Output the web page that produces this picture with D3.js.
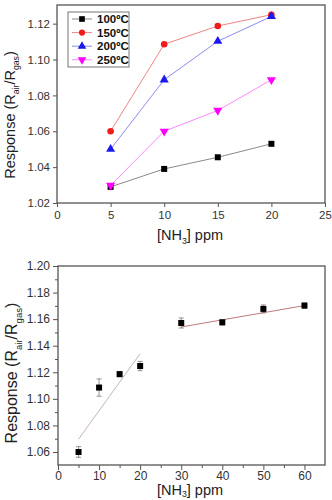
<!DOCTYPE html>
<html>
<head>
<meta charset="utf-8">
<script src="https://cdn.jsdelivr.net/npm/d3@7"></script>
<style>
  body { margin: 0; background: #fff; }
  svg { display: block; font-family: "Liberation Sans", Arial, sans-serif; }
</style>
</head>
<body>
<div id="chart"></div>
<script>
// top panel: response vs NH3 concentration at four temperatures
const topX = [5, 10, 15, 20];
const temps = ["100ºC", "150ºC", "200ºC", "250ºC"];
const resp100 = [1.029, 1.039, 1.0455, 1.053];
const resp150 = [1.060, 1.1085, 1.1187, 1.125];
const resp200 = [1.050, 1.0887, 1.1102, 1.124];
const resp250 = [1.0298, 1.060, 1.0716, 1.0887];
const topXTicks = [0, 5, 10, 15, 20, 25];
const topYTicks = [1.02, 1.04, 1.06, 1.08, 1.10, 1.12];

// bottom panel: response at 150ºC with error bars and two linear fits
const botX = [5, 10, 15, 20, 30, 40, 50, 60];
const botY = [1.060, 1.1085, 1.1186, 1.1247, 1.1571, 1.1576, 1.1677, 1.1702];
const botErr = [0.004, 0.0065, 0.002, 0.0035, 0.0038, 0.002, 0.003, 0.002];
const fitLowX = [5, 20];
const fitLowY = [1.0696, 1.134];
const fitHighX = [30, 60];
const fitHighY = [1.1541, 1.1702];
const botXTicks = [0, 10, 20, 30, 40, 50, 60];
const botYTicks = [1.06, 1.08, 1.10, 1.12, 1.14, 1.16, 1.18, 1.20];

const series = [
    { name: temps[0], values: resp100, marker: "#000", line: "#8a8a8a", shape: d3.symbolSquare },
    { name: temps[1], values: resp150, marker: "#ee1c1c", line: "#f08585", shape: d3.symbolCircle },
    { name: temps[2], values: resp200, marker: "#1a1aee", line: "#8c8cf2", shape: d3.symbolTriangle },
    { name: temps[3], values: resp250, marker: "#ff00ff", line: "#ff88ff", shape: "down" }
];

const svg = d3.select("#chart").append("svg")
    .attr("width", 332)
    .attr("height", 500);

const frameColor = "#555";
const tickText = "#333";

function symbolPath(shape, size) {
    if (shape === "down") {
        return d3.symbol().type(d3.symbolTriangle).size(size)();
    }
    return d3.symbol().type(shape).size(size)();
}

function drawFrame(g, w, h) {
    g.append("rect")
        .attr("x", 0).attr("y", 0)
        .attr("width", w).attr("height", h)
        .attr("fill", "none")
        .attr("stroke", frameColor)
        .attr("stroke-width", 1.3);
}

function styleAxis(sel, size) {
    sel.select(".domain").remove();
    sel.selectAll(".tick line").attr("stroke", frameColor).attr("stroke-width", 1);
    sel.selectAll(".tick text")
        .attr("fill", tickText)
        .style("font-size", (size || 11.5) + "px");
}

function yLabel(g, x, y, size) {
    const t = g.append("text")
        .attr("transform", "translate(" + x + "," + y + ") rotate(-90)")
        .attr("text-anchor", "middle")
        .attr("fill", "#222")
        .style("font-size", size + "px");
    t.append("tspan").text("Response (R");
    t.append("tspan").attr("dy", size * 0.3).style("font-size", (size * 0.6) + "px").text("air");
    t.append("tspan").attr("dy", -size * 0.3).text("/R");
    t.append("tspan").attr("dy", size * 0.3).style("font-size", (size * 0.6) + "px").text("gas");
    t.append("tspan").attr("dy", -size * 0.3).text(")");
}

function xLabel(g, x, y, size, sub) {
    const t = g.append("text")
        .attr("x", x).attr("y", y)
        .attr("text-anchor", "middle")
        .attr("fill", "#222")
        .style("font-size", size + "px");
    t.append("tspan").text("[NH");
    t.append("tspan").attr("dy", size * sub).style("font-size", (size * 0.6) + "px").text("3");
    t.append("tspan").attr("dy", -size * sub).text("] ppm");
}

/* Top panel */

const topLeft = 57, topTop = 5, topW = 268, topH = 198;
const topG = svg.append("g").attr("transform", "translate(" + topLeft + "," + topTop + ")");

const xTop = d3.scaleLinear().domain([0, 25]).range([0, topW]);
const yTop = d3.scaleLinear().domain([1.02, 1.1304]).range([topH, 0]);

topG.append("g")
    .attr("transform", "translate(0," + topH + ")")
    .call(d3.axisBottom(xTop).tickValues(topXTicks).tickSize(4).tickPadding(4).tickFormat(d3.format("d")))
    .call(styleAxis);
topG.append("g")
    .call(d3.axisLeft(yTop).tickValues(topYTicks).tickSize(4).tickPadding(3).tickFormat(d3.format(".2f")))
    .call(styleAxis);
drawFrame(topG, topW, topH);

const line = d3.line()
    .x((d, i) => xTop(topX[i]))
    .y(d => yTop(d));

series.forEach(s => {
    topG.append("path")
        .datum(s.values)
        .attr("fill", "none")
        .attr("stroke", s.line)
        .attr("stroke-width", 1)
        .attr("d", line);
});
series.forEach(s => {
    topG.selectAll(null)
        .data(s.values)
        .enter()
        .append("path")
        .attr("d", symbolPath(s.shape, s.shape === d3.symbolCircle ? 34 : 36))
        .attr("transform", (d, i) => "translate(" + xTop(topX[i]) + "," + yTop(d) + ")" + (s.shape === "down" ? " rotate(180)" : ""))
        .attr("fill", s.marker);
});

// legend
const legend = topG.append("g").attr("transform", "translate(11,7)");
legend.append("rect")
    .attr("width", 61).attr("height", 55)
    .attr("fill", "#fff")
    .attr("stroke", "#777")
    .attr("stroke-width", 1);
series.forEach((s, i) => {
    const row = legend.append("g").attr("transform", "translate(0," + (7 + i * 13.6) + ")");
    row.append("line")
        .attr("x1", 4).attr("x2", 24)
        .attr("stroke", s.line).attr("stroke-width", 1);
    row.append("path")
        .attr("d", symbolPath(s.shape, s.shape === d3.symbolCircle ? 30 : 32))
        .attr("transform", "translate(14,0)" + (s.shape === "down" ? " rotate(180)" : ""))
        .attr("fill", s.marker);
    row.append("text")
        .attr("x", 29).attr("y", 4)
        .attr("fill", "#111")
        .style("font-size", "11.5px")
        .style("font-weight", "bold")
        .text(s.name);
});

yLabel(svg, 15, 115, 14.5);
xLabel(svg, 190, 240, 14.5, 0.3);

/* Bottom panel */

const botLeft = 58, botTop = 266, botW = 267, botH = 199;
const botG = svg.append("g").attr("transform", "translate(" + botLeft + "," + botTop + ")");

const xBot = d3.scaleLinear().domain([0, 65]).range([0, botW]);
const yBot = d3.scaleLinear().domain([1.0502, 1.2]).range([botH, 0]);

botG.append("g")
    .attr("transform", "translate(0," + botH + ")")
    .call(d3.axisBottom(xBot).tickValues(d3.range(5, 65, 10)).tickSize(3).tickFormat(""))
    .call(styleAxis);
botG.append("g")
    .attr("transform", "translate(0," + botH + ")")
    .call(d3.axisBottom(xBot).tickValues(botXTicks).tickSize(5).tickPadding(1).tickFormat(d3.format("d")))
    .call(styleAxis, 12);
botG.append("g")
    .call(d3.axisLeft(yBot).tickValues(d3.range(1.07, 1.2, 0.02)).tickSize(3).tickFormat(""))
    .call(styleAxis);
botG.append("g")
    .call(d3.axisLeft(yBot).tickValues(botYTicks).tickSize(5).tickPadding(3).tickFormat(d3.format(".2f")))
    .call(styleAxis, 12);
drawFrame(botG, botW, botH);

// fitted lines
const fitLine = d3.line()
    .x(d => xBot(d[0]))
    .y(d => yBot(d[1]));
botG.append("path")
    .datum(d3.zip(fitLowX, fitLowY))
    .attr("fill", "none")
    .attr("stroke", "#c8b4b4")
    .attr("stroke-width", 1)
    .attr("d", fitLine);
botG.append("path")
    .datum(d3.zip(fitHighX, fitHighY))
    .attr("fill", "none")
    .attr("stroke", "#c07a7a")
    .attr("stroke-width", 1)
    .attr("d", fitLine);

// error bars
const pts = d3.zip(botX, botY, botErr);
const err = botG.selectAll(".err").data(pts).enter().append("g").attr("class", "err");
err.append("line")
    .attr("x1", d => xBot(d[0])).attr("x2", d => xBot(d[0]))
    .attr("y1", d => yBot(d[1] - d[2])).attr("y2", d => yBot(d[1] + d[2]))
    .attr("stroke", "#777").attr("stroke-width", 0.8);
[-1, 1].forEach(sign => {
    err.append("line")
        .attr("x1", d => xBot(d[0]) - 2.5).attr("x2", d => xBot(d[0]) + 2.5)
        .attr("y1", d => yBot(d[1] + sign * d[2])).attr("y2", d => yBot(d[1] + sign * d[2]))
        .attr("stroke", "#777").attr("stroke-width", 0.8);
});

botG.selectAll(".pt")
    .data(pts)
    .enter()
    .append("rect")
    .attr("class", "pt")
    .attr("x", d => xBot(d[0]) - 3)
    .attr("y", d => yBot(d[1]) - 3)
    .attr("width", 6).attr("height", 6)
    .attr("fill", "#000");

yLabel(svg, 17, 373, 16);
xLabel(svg, 190, 495, 14.5, 0.12);
</script>
</body>
</html>
